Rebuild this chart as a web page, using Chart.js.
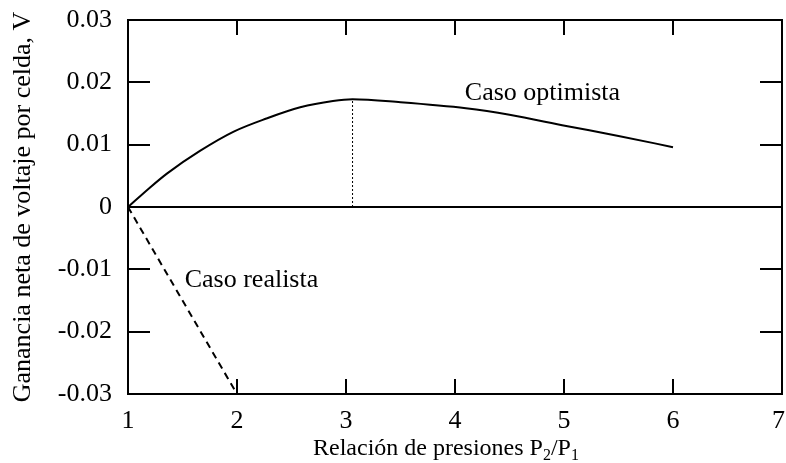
<!DOCTYPE html>
<html>
<head>
<meta charset="utf-8">
<script src="https://cdn.jsdelivr.net/npm/chart.js@4.4.1/dist/chart.umd.min.js"></script>
<style>
  html, body { margin: 0; padding: 0; background: #fff; }
  #wrap { width: 786px; height: 463px; }
</style>
</head>
<body>
<div id="wrap"><canvas id="chart" width="786" height="463"></canvas></div>
<script>
// values
const optimistX = [1, 1.2, 1.36, 1.66, 1.97, 2.27, 2.58, 2.88, 3.06, 3.5, 4.1, 4.5, 5.02, 5.5, 6.0];
const optimistY = [0, 0.0031, 0.0054, 0.0090, 0.0121, 0.0142, 0.0160, 0.0170, 0.01728, 0.0168, 0.01584, 0.0148, 0.0130, 0.0114, 0.0096];
const realistX = [1, 2];
const realistY = [0, -0.03];
const peakX = [3.06, 3.06];
const peakY = [0, 0.01728];

const xTicks = [1, 2, 3, 4, 5, 6, 7];
const yTicks = [-0.03, -0.02, -0.01, 0, 0.01, 0.02, 0.03];

const labels = [
  { text: 'Caso optimista', x: 4.09, y: 0.0172 },
  { text: 'Caso realista', x: 1.52, y: -0.0128 }
];

const FONT = '"Liberation Serif", "Times New Roman", serif';

function pts(xs, ys) {
  return xs.map((x, i) => ({ x: x, y: ys[i] }));
}

const framePlugin = {
  id: 'frame',
  afterDatasetsDraw(chart) {
    const ctx = chart.ctx;
    const a = chart.chartArea;
    const xs = chart.scales.x;
    const ys = chart.scales.y;
    ctx.save();
    ctx.strokeStyle = '#000';
    ctx.lineWidth = 2;

    // zero line
    const y0 = Math.round(ys.getPixelForValue(0));
    ctx.beginPath();
    ctx.moveTo(a.left, y0);
    ctx.lineTo(a.right, y0);
    ctx.stroke();

    // inward ticks on all four sides
    ctx.beginPath();
    xTicks.forEach(v => {
      const px = Math.round(xs.getPixelForValue(v));
      ctx.moveTo(px, a.bottom);
      ctx.lineTo(px, a.bottom - 15);
      ctx.moveTo(px, a.top);
      ctx.lineTo(px, a.top + 15);
    });
    yTicks.forEach(v => {
      const py = Math.round(ys.getPixelForValue(v));
      ctx.moveTo(a.left, py);
      ctx.lineTo(a.left + 22, py);
      ctx.moveTo(a.right, py);
      ctx.lineTo(a.right - 22, py);
    });
    ctx.stroke();

    ctx.strokeRect(a.left, a.top, a.right - a.left, a.bottom - a.top);

    ctx.fillStyle = '#000';
    ctx.textBaseline = 'alphabetic';

    // x tick labels, last one kept inside the canvas
    ctx.font = '26px ' + FONT;
    ctx.textAlign = 'center';
    xTicks.forEach(v => {
      const t = String(v);
      const w = ctx.measureText(t).width;
      const px = Math.min(xs.getPixelForValue(v), chart.width - w / 2 - 1);
      ctx.fillText(t, px, a.bottom + 34);
    });

    // curve labels
    ctx.textAlign = 'left';
    labels.forEach(l => {
      ctx.fillText(l.text, xs.getPixelForValue(l.x), ys.getPixelForValue(l.y));
    });

    // x axis title with subscripts
    const parts = [
      { t: 'Relación de presiones P', sub: false },
      { t: '2', sub: true },
      { t: '/P', sub: false },
      { t: '1', sub: true }
    ];
    const big = '24px ' + FONT;
    const small = '16px ' + FONT;
    let cx = 313;
    const base = 455;
    parts.forEach(p => {
      ctx.font = p.sub ? small : big;
      ctx.fillText(p.t, cx, p.sub ? base + 5 : base);
      cx += ctx.measureText(p.t).width;
    });
    ctx.restore();
  }
};

new Chart(document.getElementById('chart'), {
  type: 'scatter',
  data: {
    datasets: [
      {
        data: pts(optimistX, optimistY),
        showLine: true,
        borderColor: '#000',
        borderWidth: 2,
        pointRadius: 0,
        cubicInterpolationMode: 'monotone'
      },
      {
        data: pts(realistX, realistY),
        showLine: true,
        borderColor: '#000',
        borderWidth: 2,
        borderDash: [7, 5],
        pointRadius: 0
      },
      {
        data: pts(peakX, peakY),
        showLine: true,
        borderColor: '#000',
        borderWidth: 1,
        borderDash: [2, 2],
        pointRadius: 0
      }
    ]
  },
  options: {
    responsive: false,
    animation: false,
    layout: { padding: { top: 20, right: 4, left: 0, bottom: 0 } },
    plugins: {
      legend: { display: false },
      tooltip: { enabled: false }
    },
    scales: {
      x: {
        type: 'linear',
        min: 1,
        max: 7,
        afterBuildTicks(scale) { scale.ticks = xTicks.map(v => ({ value: v })); },
        afterFit(scale) {
          scale.height = 69;
          scale.paddingLeft = 0;
          scale.paddingRight = 0;
        },
        grid: { display: false, drawTicks: false },
        border: { display: false },
        ticks: { display: false }
      },
      y: {
        type: 'linear',
        min: -0.03,
        max: 0.03,
        afterBuildTicks(scale) { scale.ticks = yTicks.map(v => ({ value: v })); },
        afterFit(scale) {
          scale.width = 128;
          scale.paddingTop = 0;
          scale.paddingBottom = 0;
        },
        grid: { display: false, drawTicks: false },
        border: { display: false },
        ticks: {
          color: '#000',
          padding: 16,
          font: { family: FONT, size: 26 },
          callback: v => (Math.abs(v) < 1e-9 ? '0' : String(Math.round(v * 100) / 100))
        },
        title: {
          display: true,
          text: 'Ganancia neta de voltaje por celda, V',
          color: '#000',
          padding: { top: 8, bottom: 6 },
          font: { family: FONT, size: 26 }
        }
      }
    }
  },
  plugins: [framePlugin]
});
</script>
</body>
</html>
